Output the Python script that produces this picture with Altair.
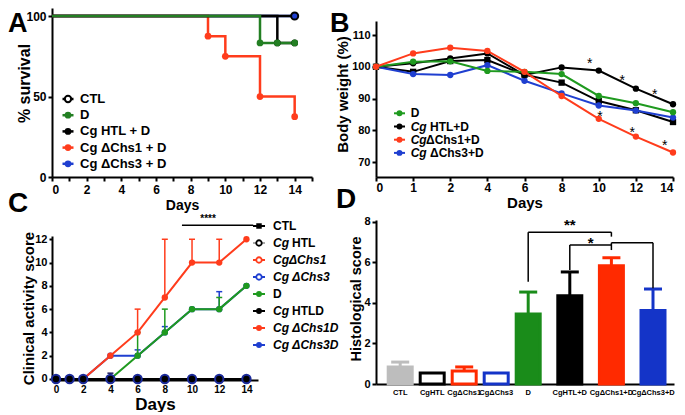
import altair as alt
import pandas as pd

FONT = "Liberation Sans, Arial, Helvetica, sans-serif"
RED = "#ff3c1c"
GREEN_A = "#237f23"
GREEN = "#1f9a1f"
BLUE = "#1f3fd0"
BLACK = "#000000"

# ---------------- Panel A: survival ----------------
a_series = ["CTL", "D", "Cg HTL + D", "Cg ΔChs1 + D", "Cg ΔChs3 + D"]
a_colors = [BLACK, GREEN_A, BLACK, RED, BLUE]
a_ctl_days = [0, 14]
a_ctl_surv = [100, 100]
a_d_days = [0, 12, 14]
a_d_surv = [100, 83.3, 83.3]
a_htl_days = [0, 13, 14]
a_htl_surv = [100, 83.3, 83.3]
a_chs1_days = [0, 9, 10, 12, 14]
a_chs1_surv = [100, 87.5, 75, 50, 37.5]
a_chs3_days = [0, 14]
a_chs3_surv = [100, 100]
a_ctl_mk_days = [14]
a_ctl_mk_surv = [100]
a_d_mk_days = [12, 13, 14]
a_d_mk_surv = [83.3, 83.3, 83.3]
a_htl_mk_days = [13, 14]
a_htl_mk_surv = [83.3, 83.3]
a_chs1_mk_days = [9, 10, 12, 14]
a_chs1_mk_surv = [87.5, 75, 50, 37.5]
a_chs3_mk_days = [14]
a_chs3_mk_surv = [100]
a_x_ticks = [0, 1, 2, 3, 4, 5, 6, 7, 8, 9, 10, 11, 12, 13, 14, 15]
a_y_ticks = [0, 50, 100]

# ---------------- Panel B: body weight ----------------
b_days = [0, 1, 2, 4, 6, 8, 10, 12, 14]
b_ctl = [100, 98.4, 101.8, 102.1, 97.5, 95.0, 89.2, 86.3, 82.6]
b_d = [100, 101.6, 101.7, 98.7, 98.4, 97.7, 90.8, 88.5, 85.7]
b_htl = [100, 101.1, 102.6, 104.2, 97.4, 99.8, 98.8, 93.1, 88.2]
b_chs1 = [100, 104.2, 106.0, 105.0, 98.4, 90.8, 83.6, 78.0, 73.0]
b_chs3 = [100, 97.7, 97.4, 100.5, 95.6, 91.6, 87.8, 86.2, 84.0]
b_leg_series = ["D", "Cg HTL+D", "CgΔChs1+D", "Cg ΔChs3+D"]
b_leg_colors = [GREEN, BLACK, RED, BLUE]
b_leg_italic = ["", "Cg", "Cg", "Cg"]
b_leg_upright = ["D", "HTL+D", "ΔChs1+D", "ΔChs3+D"]
b_leg_gap = [0, 1, 0, 1]
b_star_pos = [5.76, 6.63, 7.51, 6.03, 6.90, 7.78]
b_star_val = [102.1, 96.8, 92.4, 85.3, 80.5, 76.4]
b_y_ticks = [70, 80, 90, 100, 110]

# ---------------- Panel C: clinical score ----------------
c_days = [0, 1, 2, 4, 6, 8, 10, 12, 14]
c_ctl = [0, 0, 0, 0, 0, 0, 0, 0, 0]
c_htl = [0, 0, 0, 0, 0, 0, 0, 0, 0]
c_chs1 = [0, 0, 0, 0, 0, 0, 0, 0, 0]
c_chs3 = [0, 0, 0, 0, 0, 0, 0, 0, 0]
c_htld = [0, 0, 0, 0, 0, 0, 0, 0, 0]
c_d = [0, 0, 0, 0, 2, 4, 6, 6, 8]
c_chs1d = [0, 0, 0, 2, 4, 7, 10, 10, 12]
c_chs3d = [0, 0, 0, 2, 2, 4, 6, 6, 8]
c_d_sd = [0, 0, 0, 0, 2, 2, 0, 1, 0]
c_chs1d_sd = [0, 0, 0, 0, 2, 5, 2, 2, 0]
c_chs3d_sd = [0, 0, 0, 0, 0.5, 0.5, 0, 1.5, 0]
c_chs3_sd = [0, 0, 0, 0.5, 0, 0, 0, 0, 0]
c_sig_from = [9.26]
c_sig_to = [14.5]
c_sig_level = [13.2]
c_sig_text = ["****"]
c_leg_series = ["CTL", "Cg HTL", "CgΔChs1", "Cg ΔChs3", "D", "Cg HTLD", "Cg ΔChs1D", "Cg ΔChs3D"]
c_leg_colors = [BLACK, BLACK, RED, BLUE, GREEN, BLACK, RED, BLUE]
c_leg_italic = ["", "Cg", "CgΔChs1", "Cg ΔChs3", "", "Cg", "Cg ΔChs1D", "Cg ΔChs3D"]
c_leg_upright = ["CTL", "HTL", "", "", "D", "HTLD", "", ""]
c_leg_marker = ["square", "open", "open", "open", "filled", "filled", "filled", "filled"]
c_x_ticks = [0, 2, 4, 6, 8, 10, 12, 14]
c_y_ticks = [0, 2, 4, 6, 8, 10, 12]

# ---------------- Panel D: histology ----------------
d_cats = ["CTL", "CgHTL", "CgΔChs1", "CgΔChs3", "D", "CgHTL+D", "CgΔChs1+D", "CgΔChs3+D"]
d_mean = [0.84, 0.54, 0.64, 0.54, 3.45, 4.35, 5.82, 3.62]
d_sem = [0.24, 0, 0.2, 0, 1.08, 1.17, 0.4, 1.06]
d_fill = ["#bdbdbd", "#ffffff", "#ffffff", "#ffffff", "#1a8c1a", "#000000", "#ff2a00", "#1434c8"]
d_stroke = ["#bdbdbd", "#000000", "#ff2a00", "#1434c8", "#1a8c1a", "#000000", "#ff2a00", "#1434c8"]
d_brk_left = ["D", "CgHTL+D", "CgΔChs1+D"]
d_brk_right = ["CgΔChs1+D", "CgΔChs1+D", "CgΔChs3+D"]
d_brk_level = [7.48, 6.85, 6.96]
d_brk_left_end = [5.04, 5.62, 6.6]
d_brk_right_end = [7.26, 6.85, 4.72]
d_brk_label = ["**", "*", ""]
d_brk_label_y = [8.05, 7.13, 0]
d_y_ticks = [0, 2, 4, 6, 8]


def axis(**kw):
    base = dict(labelFont=FONT, titleFont=FONT, labelFontWeight="bold", titleFontWeight="bold",
                labelColor="black", titleColor="black", domainColor="black", tickColor="black",
                domainWidth=2, tickWidth=2, tickSize=4, grid=False, labelPadding=2)
    base.update(kw)
    return alt.Axis(**base)


def txt(s, x, y, size=30, align="left", baseline="top"):
    return alt.Chart(pd.DataFrame({"t": [s]})).mark_text(
        font=FONT, fontSize=size, fontWeight="bold", align=align, baseline=baseline, color="black"
    ).encode(text="t:N", x=alt.value(x), y=alt.value(y))


# ======================= Panel A =======================
def AX():
    return alt.X("day:Q", scale=alt.Scale(domain=[0, 15], nice=False),
                 axis=axis(values=a_x_ticks, labelFontSize=12, labelPadding=3, title="Days",
                           titleFontSize=14, titleY=21, titleBaseline="top"))


def AY():
    return alt.Y("val:Q", scale=alt.Scale(domain=[0, 105], nice=False),
                 axis=axis(values=a_y_ticks, labelFontSize=12, title="% survival",
                           titleFontSize=16, titleX=-20, titleY=75))


def df_xy(name, xs, ys):
    return pd.DataFrame({"series": name, "day": xs, "val": ys})


a_lines = [
    ("Cg ΔChs3 + D", a_chs3_days, a_chs3_surv, BLUE),
    ("Cg ΔChs1 + D", a_chs1_days, a_chs1_surv, RED),
    ("Cg HTL + D", a_htl_days, a_htl_surv, BLACK),
    ("CTL", a_ctl_days, a_ctl_surv, BLACK),
    ("D", a_d_days, a_d_surv, GREEN_A),
]
a_marks = [
    ("Cg ΔChs3 + D", a_chs3_mk_days, a_chs3_mk_surv, BLUE),
    ("Cg ΔChs1 + D", a_chs1_mk_days, a_chs1_mk_surv, RED),
    ("Cg HTL + D", a_htl_mk_days, a_htl_mk_surv, BLACK),
    ("D", a_d_mk_days, a_d_mk_surv, GREEN_A),
]
a_layers = []
for name, xs, ys, col in a_lines:
    a_layers.append(alt.Chart(df_xy(name, xs, ys)).mark_line(
        interpolate="step-after", strokeWidth=2.5, color=col).encode(x=AX(), y=AY()))
for name, xs, ys, col in a_marks:
    a_layers.append(alt.Chart(df_xy(name, xs, ys)).mark_point(
        filled=True, size=45, opacity=1, color=col).encode(x=AX(), y=AY()))
a_layers.append(alt.Chart(df_xy("CTL", a_ctl_mk_days, a_ctl_mk_surv)).mark_point(
    filled=False, size=50, opacity=1, color=BLACK, strokeWidth=2).encode(x=AX(), y=AY()))

a_leg = pd.DataFrame({"series": a_series, "row": list(range(len(a_series)))})
a_col = alt.Color("series:N", scale=alt.Scale(domain=a_series, range=a_colors), legend=None)
a_ly = alt.Y("ly:Q", scale=None, axis=None)
a_leg_base = alt.Chart(a_leg).transform_calculate(ly="91 + 16.2*datum.row")
a_layers += [
    a_leg_base.mark_rule(strokeWidth=2.5).encode(x=alt.value(10.5), x2=alt.value(21.5), y=a_ly, color=a_col),
    a_leg_base.transform_filter("datum.series != 'CTL'").mark_point(filled=True, size=45, opacity=1).encode(
        x=alt.value(16), y=a_ly, color=a_col),
    a_leg_base.transform_filter("datum.series == 'CTL'").mark_point(
        shape="circle", filled=True, fill="white", stroke="black", strokeWidth=2, size=40, opacity=1).encode(
        x=alt.value(16), y=a_ly),
    a_leg_base.mark_text(font=FONT, fontSize=13, fontWeight="bold", align="left", baseline="middle",
                         color="black").encode(x=alt.value(28), y=a_ly, text="series:N"),
    txt("A", -44, 3, size=27),
]
panel_a = alt.layer(*a_layers).properties(width=260, height=169)

# ======================= Panel B =======================
b_label_expr = "[" + ",".join("'%d'" % d for d in b_days) + "][datum.value]"


def BX(field="idx"):
    return alt.X(field + ":Q", scale=alt.Scale(domain=[0, len(b_days) - 1], nice=False),
                 axis=axis(values=list(range(len(b_days))), labelExpr=b_label_expr, labelFontSize=12,
                           labelPadding=1, title="Days", titleFontSize=15, titleY=18, titleBaseline="top"))


def BY(field="val"):
    return alt.Y(field + ":Q", scale=alt.Scale(domain=[65.28, 114.41], range=[169, 13], nice=False, zero=False),
                 axis=axis(values=b_y_ticks, labelFontSize=11, title="Body weight (%)",
                           titleFontSize=15, titleX=-26, titleY=86))


def b_df(name, vals):
    return pd.DataFrame({"series": name, "idx": list(range(len(b_days))), "val": vals})


b_sets = [
    ("CTL", b_ctl, BLACK, "square"),
    ("Cg ΔChs3+D", b_chs3, BLUE, "circle"),
    ("Cg HTL+D", b_htl, BLACK, "circle"),
    ("D", b_d, GREEN, "circle"),
    ("CgΔChs1+D", b_chs1, RED, "circle"),
]
b_layers = []
for name, vals, col, shp in b_sets:
    base = alt.Chart(b_df(name, vals))
    b_layers.append(base.mark_line(strokeWidth=2, color=col).encode(x=BX(), y=BY()))
    b_layers.append(base.mark_point(filled=True, size=40, opacity=1, color=col, shape=shp).encode(x=BX(), y=BY()))

b_stars = pd.DataFrame({"pos": b_star_pos, "v": b_star_val})
b_layers.append(alt.Chart(b_stars).mark_text(text="*", font=FONT, fontSize=14, baseline="middle", dy=4,
                                             color="black").encode(x=BX("pos"), y=BY("v")))

b_leg = pd.DataFrame({"series": b_leg_series, "row": list(range(len(b_leg_series))),
                      "it": b_leg_italic, "up": b_leg_upright, "gap": b_leg_gap})
b_col = alt.Color("series:N", scale=alt.Scale(domain=b_leg_series, range=b_leg_colors), legend=None)
b_ly = alt.Y("ly:Q", scale=None, axis=None)
b_lb = alt.Chart(b_leg).transform_calculate(ly="105.3 + 13.2*datum.row")
b_tk = dict(font=FONT, fontSize=12, fontWeight="bold", align="left", baseline="middle", color="black")
b_layers += [
    b_lb.mark_rule(strokeWidth=2).encode(x=alt.value(18), x2=alt.value(29), y=b_ly, color=b_col),
    b_lb.mark_point(filled=True, size=35, opacity=1).encode(x=alt.value(23.5), y=b_ly, color=b_col),
    b_lb.transform_filter("datum.it != ''").mark_text(fontStyle="italic", **b_tk).encode(
        x=alt.value(34.7), y=b_ly, text="it:N"),
    b_lb.transform_filter("datum.it == ''").mark_text(**b_tk).encode(x=alt.value(34.7), y=b_ly, text="up:N"),
    b_lb.transform_filter("datum.it != '' && datum.gap == 0").mark_text(**b_tk).encode(
        x=alt.value(50), y=b_ly, text="up:N"),
    b_lb.transform_filter("datum.it != '' && datum.gap == 1").mark_text(**b_tk).encode(
        x=alt.value(54), y=b_ly, text="up:N"),
    txt("B", -46, 3, size=27),
]
panel_b = alt.layer(*b_layers).properties(width=297, height=169)

# ======================= Panel C =======================
def CX(field="day"):
    return alt.X(field + ":Q", scale=alt.Scale(domain=[-0.294, 14.85], range=[0, 206], nice=False, zero=False),
                 axis=axis(values=c_x_ticks, labelFontSize=10, tickSize=3, labelPadding=1, title="Days",
                           titleFontSize=17, titleX=103, titleY=16, titleBaseline="top"))


def CY(field="val"):
    return alt.Y(field + ":Q", scale=alt.Scale(domain=[-0.086, 12.28], range=[160, 16], nice=False, zero=False),
                 axis=axis(values=c_y_ticks, labelFontSize=11, tickSize=3, title="Clinical activity score",
                           titleFontSize=15, titleX=-16, titleY=88))


def c_df(name, vals, sd=None):
    df = pd.DataFrame({"series": name, "day": c_days, "val": vals})
    if sd is not None:
        df["top"] = [v + s for v, s in zip(vals, sd)]
        df["sd"] = sd
    return df


c_layers = []
for name, vals in [("CTL", c_ctl), ("Cg HTL", c_htl), ("CgΔChs1", c_chs1), ("Cg ΔChs3", c_chs3)]:
    c_layers.append(alt.Chart(c_df(name, vals)).mark_line(strokeWidth=2, color=BLACK).encode(x=CX(), y=CY()))
for name, vals, sd, col in [("Cg ΔChs3D", c_chs3d, c_chs3d_sd, BLUE), ("D", c_d, c_d_sd, GREEN),
                            ("Cg ΔChs1D", c_chs1d, c_chs1d_sd, RED)]:
    base = alt.Chart(c_df(name, vals, sd))
    err = base.transform_filter("datum.sd > 0")
    c_layers.append(err.mark_rule(strokeWidth=1.5, color=col).encode(x=CX(), y=CY(), y2="top:Q"))
    c_layers.append(err.mark_tick(orient="horizontal", size=6, thickness=1.5, color=col, opacity=1).encode(
        x=CX(), y=CY("top")))
    c_layers.append(base.mark_line(strokeWidth=2, color=col).encode(x=CX(), y=CY()))
    c_layers.append(base.mark_point(filled=True, size=40, opacity=1, color=col).encode(x=CX(), y=CY()))
c3 = alt.Chart(c_df("Cg ΔChs3", c_chs3, c_chs3_sd))
c_layers.append(c3.transform_filter("datum.sd > 0").mark_rule(strokeWidth=1.5, color="#1a1a60").encode(
    x=CX(), y=CY(), y2="top:Q"))
c_layers.append(c3.transform_filter("datum.sd > 0").mark_tick(
    orient="horizontal", size=6, thickness=1.5, color="#1a1a60", opacity=1).encode(x=CX(), y=CY("top")))
c_layers.append(alt.Chart(c_df("Cg HTLD", c_htld)).mark_line(strokeWidth=2, color=BLACK).encode(x=CX(), y=CY()))
c_layers.append(alt.Chart(c_df("Cg HTLD", c_htld)).mark_point(filled=True, size=70, opacity=1, color=BLACK).encode(
    x=CX(), y=CY()))
c_layers.append(c3.mark_point(filled=False, size=70, opacity=1, color="#1b2a9a", strokeWidth=2).encode(
    x=CX(), y=CY()))

c_sig = pd.DataFrame({"x1": c_sig_from, "x2": c_sig_to, "lv": c_sig_level, "t": c_sig_text})
c_sig["mid"] = [(a + b) / 2 - 0.7 for a, b in zip(c_sig_from, c_sig_to)]
c_layers.append(alt.Chart(c_sig).mark_rule(strokeWidth=1.5, color=BLACK).encode(
    x=CX("x1"), x2="x2:Q", y=CY("lv")))
c_layers.append(alt.Chart(c_sig).mark_text(font=FONT, fontSize=10, fontWeight="bold", baseline="bottom", dy=-1,
                                           color=BLACK).encode(x=CX("mid"), y=CY("lv"), text="t:N"))

c_leg = pd.DataFrame({"series": c_leg_series, "row": list(range(len(c_leg_series))), "it": c_leg_italic,
                      "up": c_leg_upright, "mk": c_leg_marker})
c_col = alt.Color("series:N", scale=alt.Scale(domain=c_leg_series, range=c_leg_colors), legend=None)
c_stk = alt.Stroke("series:N", scale=alt.Scale(domain=c_leg_series, range=c_leg_colors), legend=None)
c_ly = alt.Y("ly:Q", scale=None, axis=None)
c_lb = alt.Chart(c_leg).transform_calculate(ly="6 + 17*datum.row")
c_tk = dict(font=FONT, fontSize=12, fontWeight="bold", align="left", baseline="middle", color="black")
c_layers += [
    c_lb.transform_filter("datum.series != 'Cg HTL'").mark_rule(strokeWidth=2).encode(
        x=alt.value(201), x2=alt.value(213), y=c_ly, color=c_col),
    c_lb.transform_filter("datum.series == 'Cg HTL'").mark_rule(strokeWidth=1, color="#555555").encode(
        x=alt.value(201), x2=alt.value(213), y=c_ly),
    c_lb.transform_filter("datum.mk == 'square'").mark_point(shape="square", filled=True, size=30, opacity=1).encode(
        x=alt.value(207), y=c_ly, color=c_col),
    c_lb.transform_filter("datum.mk == 'filled'").mark_point(filled=True, size=35, opacity=1).encode(
        x=alt.value(207), y=c_ly, color=c_col),
    c_lb.transform_filter("datum.mk == 'open'").mark_point(
        shape="circle", filled=True, fill="white", size=30, strokeWidth=1.8, opacity=1).encode(
        x=alt.value(207), y=c_ly, stroke=c_stk),
    c_lb.transform_filter("datum.it != ''").mark_text(fontStyle="italic", **c_tk).encode(
        x=alt.value(221), y=c_ly, text="it:N"),
    c_lb.transform_filter("datum.it == ''").mark_text(**c_tk).encode(x=alt.value(221), y=c_ly, text="up:N"),
    c_lb.transform_filter("datum.it == 'Cg'").mark_text(**c_tk).encode(x=alt.value(240), y=c_ly, text="up:N"),
    txt("C", -44, -30, size=28),
]
panel_c = alt.layer(*c_layers).properties(width=254, height=160)

# ======================= Panel D =======================
d_pos = [i + max(0, i - 4) * 0.3 for i in range(len(d_cats))]
d_df = pd.DataFrame({"cat": d_cats, "pos": d_pos, "mean": d_mean, "sem": d_sem,
                     "top": [m + s for m, s in zip(d_mean, d_sem)]})
pos_of = dict(zip(d_cats, d_pos))


def DX(field="pos"):
    return alt.X(field + ":Q", scale=alt.Scale(domain=[-0.6, 8.4], nice=False, zero=False),
                 axis=axis(labels=False, ticks=False, title=None))


def DY(field="mean"):
    return alt.Y(field + ":Q", scale=alt.Scale(domain=[0, 8.08], nice=False),
                 axis=axis(values=d_y_ticks, labelFontSize=11, title="Histological score",
                           titleFontSize=14.5, titleX=-13, titleY=78.5))


d_fill_sc = alt.Scale(domain=d_cats, range=d_fill)
d_stroke_sc = alt.Scale(domain=d_cats, range=d_stroke)
d_base = alt.Chart(d_df)
d_err = d_base.transform_filter("datum.sem > 0")
d_layers = [
    d_err.mark_rule(strokeWidth=3).encode(x=DX(), y=DY(), y2="top:Q",
                                          stroke=alt.Stroke("cat:N", scale=d_stroke_sc, legend=None)),
    d_err.mark_tick(orient="horizontal", size=18, thickness=3, opacity=1).encode(
        x=DX(), y=DY("top"), color=alt.Color("cat:N", scale=d_stroke_sc, legend=None)),
    d_base.mark_bar(orient="vertical", size=24, strokeWidth=3, opacity=1).encode(
        x=DX(), y=DY(), fill=alt.Fill("cat:N", scale=d_fill_sc, legend=None),
        stroke=alt.Stroke("cat:N", scale=d_stroke_sc, legend=None)),
    d_base.mark_text(font=FONT, fontSize=7.5, fontWeight="bold", baseline="top", color="black").encode(
        x=DX(), y=alt.value(169), text="cat:N"),
]
brk = pd.DataFrame({"x1": [pos_of[c] for c in d_brk_left], "x2": [pos_of[c] for c in d_brk_right],
                    "lv": d_brk_level, "le": d_brk_left_end, "re": d_brk_right_end,
                    "lab": d_brk_label, "ly": d_brk_label_y})
brk["mid"] = (brk["x1"] + brk["x2"]) / 2
d_layers += [
    alt.Chart(brk).mark_rule(strokeWidth=1.5, color=BLACK).encode(x=DX("x1"), x2="x2:Q", y=DY("lv")),
    alt.Chart(brk).mark_rule(strokeWidth=1.5, color=BLACK).encode(x=DX("x1"), y=DY("lv"), y2="le:Q"),
    alt.Chart(brk).mark_rule(strokeWidth=1.5, color=BLACK).encode(x=DX("x2"), y=DY("lv"), y2="re:Q"),
    alt.Chart(brk).transform_filter("datum.lab != ''").mark_text(
        font=FONT, fontSize=15, fontWeight="bold", baseline="middle", dy=4, color=BLACK).encode(
        x=DX("mid"), y=DY("ly"), text="lab:N"),
    txt("D", -40, -34, size=28),
]
panel_d = alt.layer(*d_layers).properties(width=298, height=164)

chart = alt.concat(
    panel_a, panel_b, panel_c, panel_d, columns=2,
    spacing={"row": 43, "column": 64}, align="none", bounds="flush"
).resolve_scale(
    color="independent", fill="independent", stroke="independent"
).properties(
    padding={"left": 0, "top": 0, "right": 0, "bottom": 0}, background="white"
).configure_view(stroke=None)

chart.save("out.html", embed_options={"renderer": "svg", "actions": False})
